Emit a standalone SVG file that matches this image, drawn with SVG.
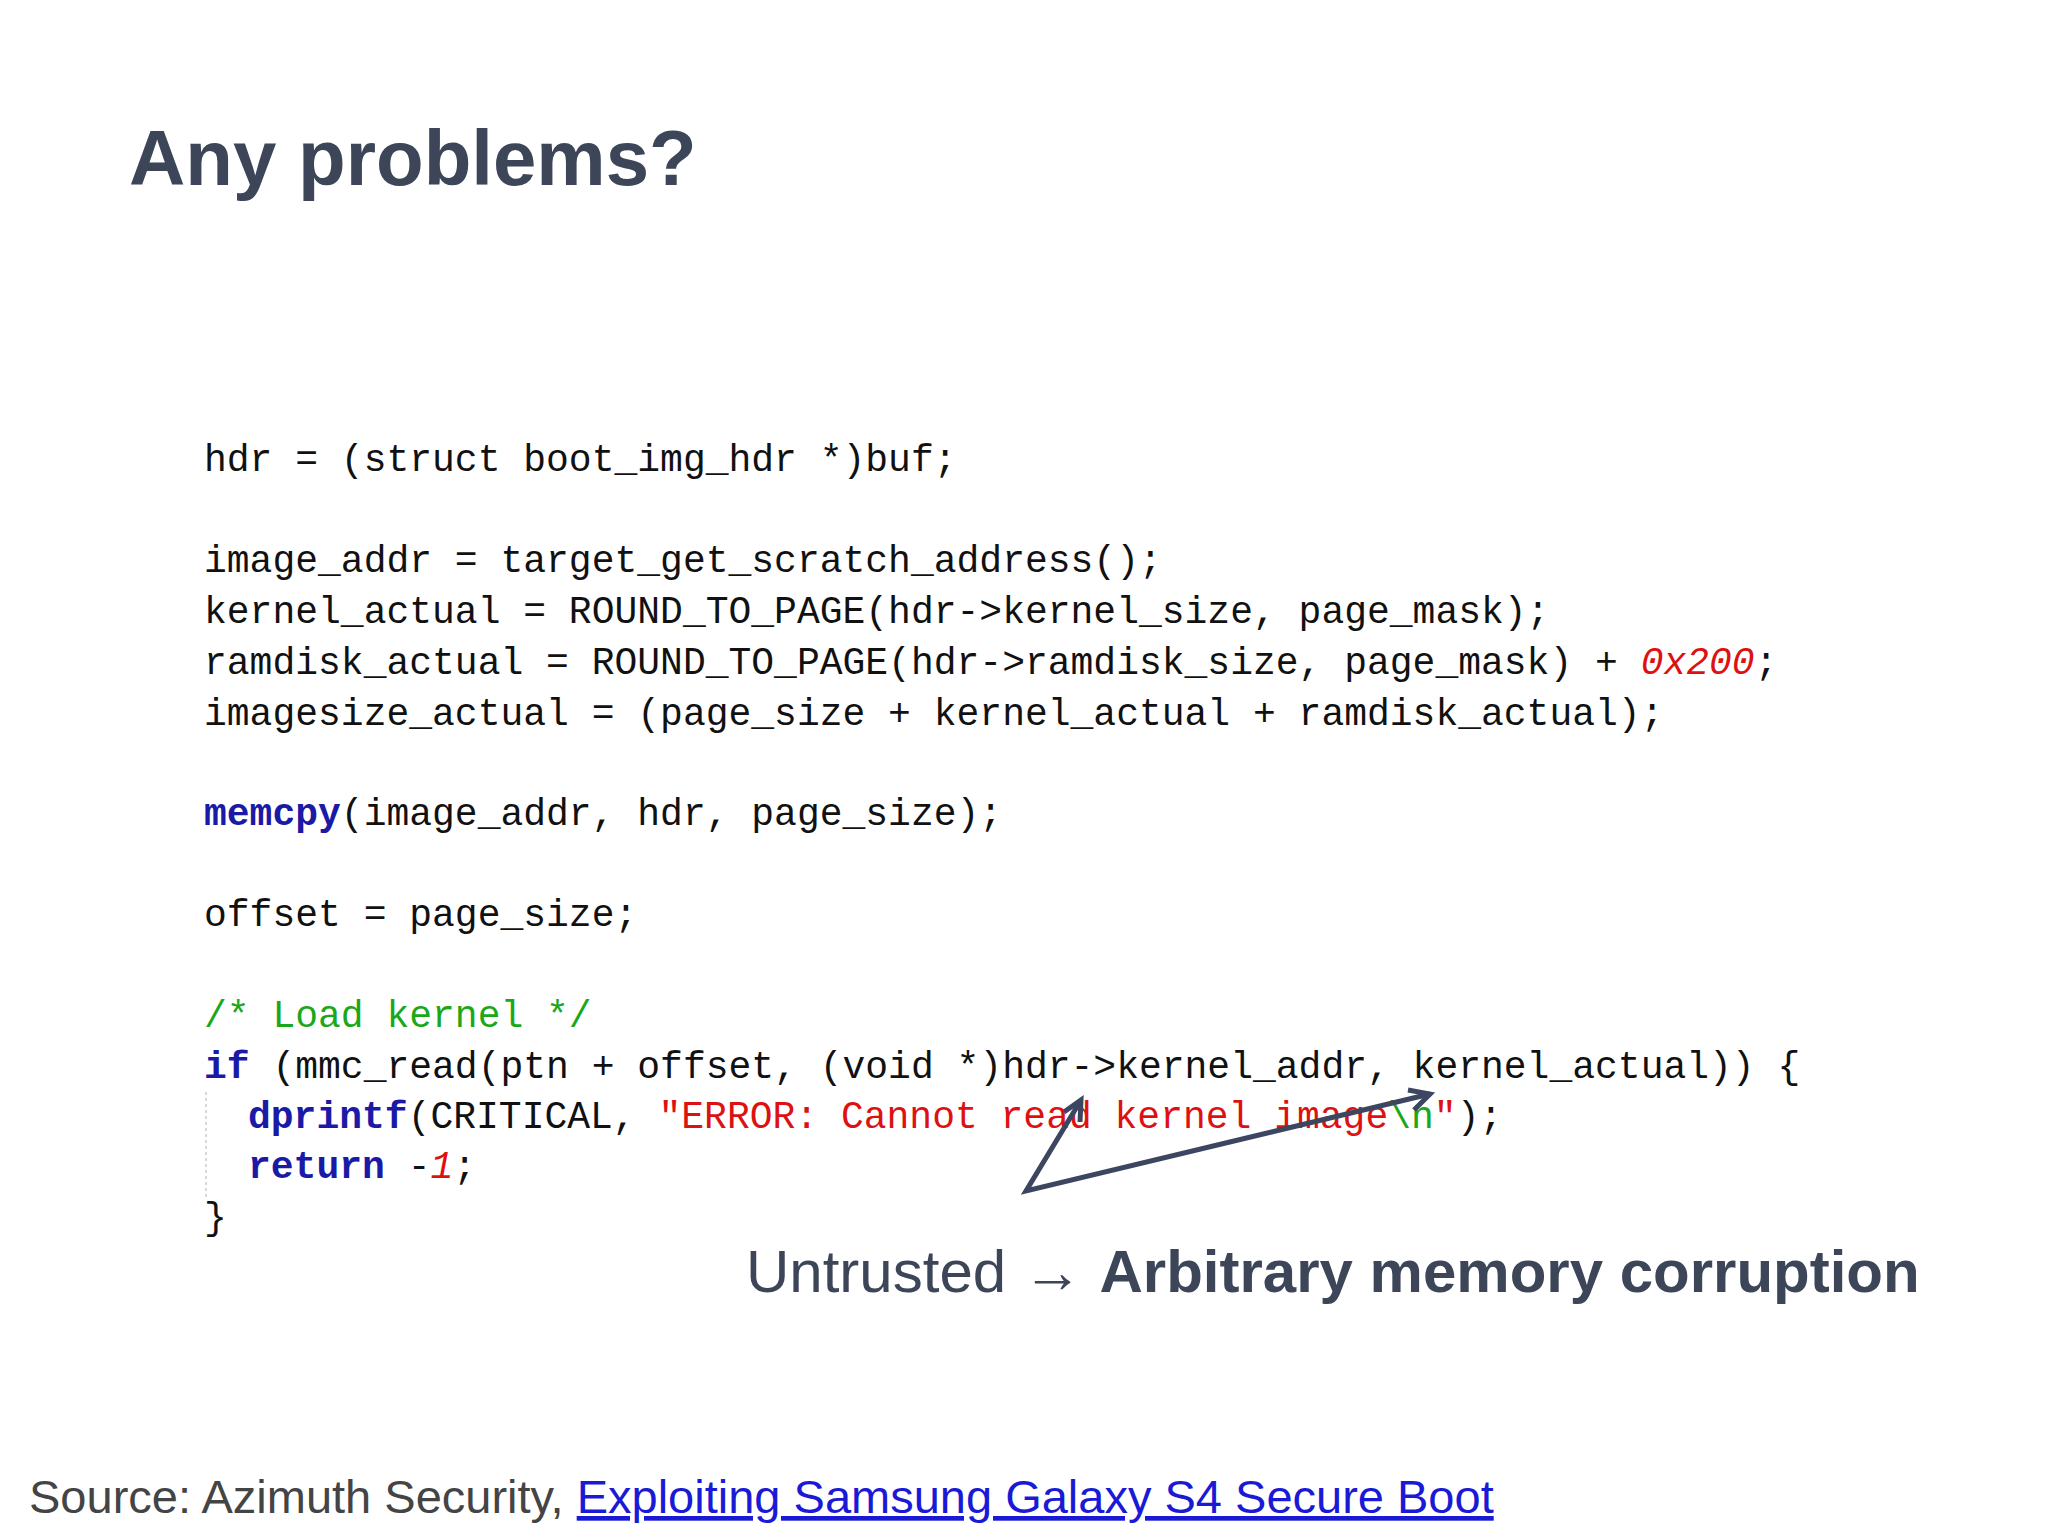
<svg xmlns="http://www.w3.org/2000/svg" width="2048" height="1537" viewBox="0 0 2048 1537">
<style>
.c{font-family:"Liberation Mono",monospace;font-size:38px;fill:#111}
.kw{fill:#1a1aa6;font-weight:bold}
.str{fill:#d11}
.cm{fill:#1aa81a}
.num{fill:#d11;font-style:italic}
</style>
<defs><marker id="ah" markerWidth="10" markerHeight="10" refX="8" refY="5" orient="auto" markerUnits="userSpaceOnUse"><path d="M0,0 L10,5 L0,10" fill="none" stroke="#3d4660" stroke-width="0"/></marker></defs>
<rect width="2048" height="1537" fill="#fff"/>
<g id="title"><text x="129" y="185" font-family="Liberation Sans,Arial,sans-serif" font-size="78" font-weight="bold" fill="#3c4658">Any problems?</text></g>
<g id="code">
<text class="c" x="204" y="471">hdr = (struct boot_img_hdr *)buf;</text>
<text class="c" x="204" y="572">image_addr = target_get_scratch_address();</text>
<text class="c" x="204" y="623">kernel_actual = ROUND_TO_PAGE(hdr-&gt;kernel_size, page_mask);</text>
<text class="c" x="204" y="674">ramdisk_actual = ROUND_TO_PAGE(hdr-&gt;ramdisk_size, page_mask) + <tspan class="num">0x200</tspan>;</text>
<text class="c" x="204" y="725">imagesize_actual = (page_size + kernel_actual + ramdisk_actual);</text>
<text class="c" x="204" y="825"><tspan class="kw">memcpy</tspan>(image_addr, hdr, page_size);</text>
<text class="c" x="204" y="926">offset = page_size;</text>
<text class="c cm" x="204" y="1027">/* Load kernel */</text>
<text class="c" x="204" y="1078"><tspan class="kw">if</tspan> (mmc_read(ptn + offset, (void *)hdr-&gt;kernel_addr, kernel_actual)) {</text>
<text class="c" x="248" y="1128"><tspan class="kw">dprintf</tspan>(CRITICAL, <tspan class="str">"ERROR: Cannot read kernel image</tspan><tspan class="cm">\n</tspan><tspan class="str">"</tspan>);</text>
<text class="c" x="248" y="1178"><tspan class="kw">return</tspan> -<tspan class="num">1</tspan>;</text>
<text class="c" x="204" y="1229">}</text>
<line x1="206" y1="1092" x2="206" y2="1200" stroke="#ccc" stroke-width="1.5" stroke-dasharray="3,3"/>
</g>
<g id="connectors" stroke="#3d4660" stroke-width="5" fill="none" stroke-linejoin="miter">
<path d="M1081,1100 L1026,1191 L1430,1094"/>
<path d="M1064,1112 L1081,1100 L1080,1122"/>
<path d="M1408,1090 L1430,1094 L1414,1110"/>
</g>
<g id="label"><text x="746" y="1292" font-family="Liberation Sans,Arial,sans-serif" font-size="60" fill="#3c4658">Untrusted → <tspan font-weight="bold">Arbitrary memory corruption</tspan></text></g>
<g id="source"><text x="29" y="1513" font-family="Liberation Sans,Arial,sans-serif" font-size="47" fill="#444">Source: Azimuth Security, <tspan fill="#1a1ad6" text-decoration="underline">Exploiting Samsung Galaxy S4 Secure Boot</tspan></text></g>
</svg>
